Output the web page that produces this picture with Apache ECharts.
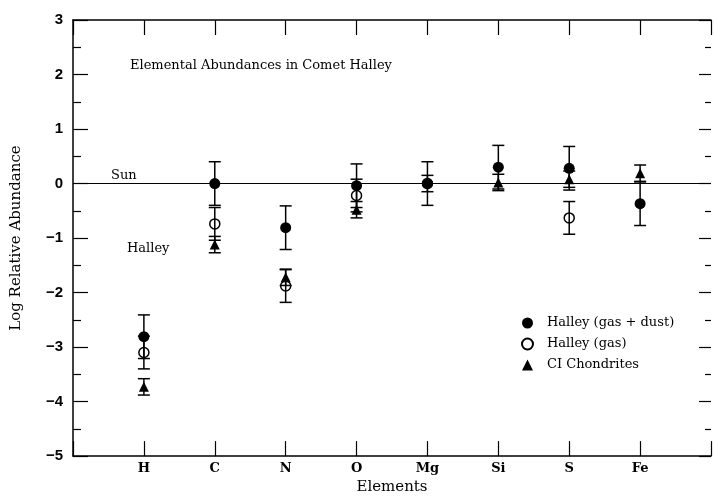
<!DOCTYPE html>
<html>
<head>
<meta charset="utf-8">
<script src="https://cdn.jsdelivr.net/npm/echarts@6/dist/echarts.min.js"></script>
<style>
  html, body { margin: 0; padding: 0; background: #fff; }
  #chart { width: 714px; height: 500px; }
</style>
</head>
<body>
<div id="chart"></div>
<script>
// element order along the x axis (positions 1..8)
const elements = ["H", "C", "N", "O", "Mg", "Si", "S", "Fe"];

// log relative abundances
const gasDust = [-2.81, 0.0, -0.81, -0.04, 0.0, 0.3, 0.28, -0.37];
const gasDustErr = [0.4, 0.4, 0.4, 0.4, 0.4, 0.4, 0.4, 0.4];

const gasOnly = [-3.1, -0.74, -1.88, -0.22, 0.0, null, -0.63, null];
const gasOnlyErr = [0.3, 0.3, 0.3, 0.3, 0.15, null, 0.3, null];

const chondrites = [-3.73, -1.12, -1.72, -0.48, null, 0.02, 0.08, 0.19];
const chondritesErr = [0.15, 0.15, 0.15, 0.15, null, 0.15, 0.15, 0.15];

const yTicks = [-5, -4, -3, -2, -1, 0, 1, 2, 3];

const SERIF = "DejaVu Serif";
const SANS = "Liberation Sans";

function points(vals) {
  return vals
    .map((v, i) => (v === null ? null : [i + 1, v]))
    .filter(p => p !== null);
}
function bars(vals, errs) {
  return vals
    .map((v, i) => (v === null ? null : [i + 1, v - errs[i], v + errs[i]]))
    .filter(p => p !== null);
}

// vertical error bar with caps
function renderBar(params, api) {
  const x = api.value(0);
  const top = api.coord([x, api.value(2)]);
  const bot = api.coord([x, api.value(1)]);
  const w = 6;
  const st = { stroke: "#000", lineWidth: 1.5 };
  return {
    type: "group",
    children: [
      { type: "line", shape: { x1: top[0], y1: top[1], x2: bot[0], y2: bot[1] }, style: st },
      { type: "line", shape: { x1: top[0] - w, y1: top[1], x2: top[0] + w, y2: top[1] }, style: st },
      { type: "line", shape: { x1: bot[0] - w, y1: bot[1], x2: bot[0] + w, y2: bot[1] }, style: st }
    ]
  };
}

const chart = echarts.init(document.getElementById("chart"));

const axisLine = { onZero: false, lineStyle: { color: "#000", width: 1.5 } };
const majorTick = { inside: true, length: 15, lineStyle: { color: "#000", width: 1.2 } };
const minorTick = { show: true, splitNumber: 2, length: 8, lineStyle: { color: "#000", width: 1.2 } };

chart.setOption({
  animation: false,
  backgroundColor: "#fff",
  grid: { left: 73, top: 20, right: -1, bottom: 37 },
  legend: {
    orient: "vertical",
    left: 516,
    top: 311,
    itemWidth: 11,
    itemHeight: 11,
    itemGap: 7,
    selectedMode: false,
    textStyle: {
      fontFamily: SERIF,
      fontSize: 13,
      color: "#000",
      lineHeight: 14,
      padding: [0, 0, 0, 9]
    },
    data: ["Halley (gas + dust)", "Halley (gas)", "CI Chondrites"]
  },
  xAxis: [
    {
      type: "value",
      min: 0,
      max: 9,
      interval: 1,
      name: "Elements",
      nameLocation: "middle",
      nameGap: 23,
      nameTextStyle: { fontFamily: SERIF, fontSize: 15, color: "#000" },
      axisLine: axisLine,
      axisTick: majorTick,
      axisLabel: {
        margin: 6,
        fontFamily: SERIF,
        fontWeight: "bold",
        fontSize: 13,
        color: "#000",
        formatter: v => elements[v - 1] || ""
      },
      splitLine: { show: false }
    },
    {
      type: "value",
      position: "top",
      min: 0,
      max: 9,
      interval: 1,
      axisLine: axisLine,
      axisTick: majorTick,
      axisLabel: { show: false },
      splitLine: { show: false }
    }
  ],
  yAxis: [
    {
      type: "value",
      min: yTicks[0],
      max: yTicks[yTicks.length - 1],
      interval: 1,
      name: "Log Relative Abundance",
      nameLocation: "middle",
      nameGap: 49,
      nameTextStyle: { fontFamily: SERIF, fontSize: 15, color: "#000" },
      axisLine: axisLine,
      axisTick: majorTick,
      minorTick: minorTick,
      axisLabel: {
        margin: 10,
        fontFamily: SANS,
        fontWeight: "bold",
        fontSize: 15,
        color: "#000",
        formatter: v => String(v).replace("-", "\u2212")
      },
      splitLine: { show: false }
    },
    {
      type: "value",
      position: "right",
      min: yTicks[0],
      max: yTicks[yTicks.length - 1],
      interval: 1,
      axisLine: { show: false, onZero: false },
      axisTick: { show: true, inside: true, length: 12, lineStyle: { color: "#000", width: 1.2 } },
      minorTick: { show: true, splitNumber: 2, length: 6, lineStyle: { color: "#000", width: 1.2 } },
      axisLabel: { show: false },
      splitLine: { show: false }
    }
  ],
  graphic: [
    {
      type: "text",
      left: 130,
      top: 59,
      style: { text: "Elemental Abundances in Comet Halley", fontFamily: SERIF, fontSize: 13, fill: "#000" }
    },
    {
      type: "text",
      left: 111,
      top: 169,
      style: { text: "Sun", fontFamily: SERIF, fontSize: 13, fill: "#000" }
    },
    {
      type: "text",
      left: 127,
      top: 242,
      style: { text: "Halley", fontFamily: SERIF, fontSize: 13, fill: "#000" }
    }
  ],
  series: [
    {
      type: "custom",
      name: "bars-gasdust",
      z: 1,
      renderItem: renderBar,
      data: bars(gasDust, gasDustErr)
    },
    {
      type: "custom",
      name: "bars-gas",
      z: 1,
      renderItem: renderBar,
      data: bars(gasOnly, gasOnlyErr)
    },
    {
      type: "custom",
      name: "bars-ci",
      z: 1,
      renderItem: renderBar,
      data: bars(chondrites, chondritesErr)
    },
    {
      type: "scatter",
      name: "Halley (gas + dust)",
      z: 3,
      symbol: "circle",
      symbolSize: 11,
      itemStyle: { color: "#000", opacity: 1 },
      data: points(gasDust),
      markLine: {
        silent: true,
        symbol: "none",
        label: { show: false },
        lineStyle: { color: "#000", width: 1.2, type: "solid" },
        data: [{ yAxis: 0 }]
      }
    },
    {
      type: "scatter",
      name: "Halley (gas)",
      z: 3,
      symbol: "circle",
      symbolSize: 10,
      itemStyle: { color: "rgba(255,255,255,0)", borderColor: "#000", borderWidth: 1.5, opacity: 1 },
      data: points(gasOnly)
    },
    {
      type: "scatter",
      name: "CI Chondrites",
      z: 3,
      symbol: "triangle",
      symbolSize: 10,
      itemStyle: { color: "#000", opacity: 1 },
      data: points(chondrites)
    }
  ]
});
</script>
</body>
</html>
